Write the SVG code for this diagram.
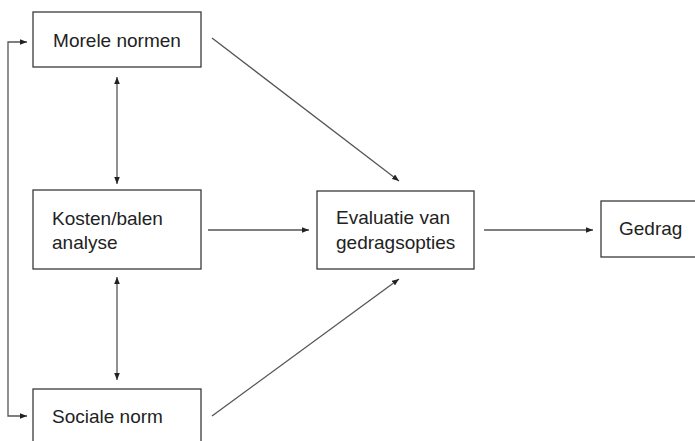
<svg xmlns="http://www.w3.org/2000/svg" width="695" height="441" viewBox="0 0 695 441">
  <style>
    .box { fill: #ffffff; stroke: #3a3a3a; stroke-width: 1.3; }
    .lbl { font-family: "Liberation Sans", Arial, sans-serif; font-size: 19px; fill: #222222; }
    .edge { fill: none; stroke: #555555; stroke-width: 1.3; }
  </style>
  <defs>
    <marker id="head" viewBox="0 0 10 8" refX="10" refY="4" markerWidth="7" markerHeight="5.6" markerUnits="userSpaceOnUse" orient="auto-start-reverse">
      <path d="M0,0 L10,4 L0,8 Z" fill="#222222"/>
    </marker>
  </defs>
  <rect width="695" height="441" fill="#ffffff"/>

  <g id="connectors">
    <!-- feedback loop on the left -->
    <path class="edge" d="M27,42 H8 V416 H27" marker-start="url(#head)" marker-end="url(#head)"/>
    <!-- two-way links between the left column boxes -->
    <line class="edge" x1="117" y1="77" x2="117" y2="184" marker-start="url(#head)" marker-end="url(#head)"/>
    <line class="edge" x1="117" y1="277" x2="117" y2="380" marker-start="url(#head)" marker-end="url(#head)"/>
    <!-- into the evaluation -->
    <line class="edge" x1="212" y1="38" x2="399" y2="181" marker-end="url(#head)"/>
    <line class="edge" x1="208" y1="230" x2="309" y2="230" marker-end="url(#head)"/>
    <line class="edge" x1="212" y1="416" x2="399" y2="279" marker-end="url(#head)"/>
    <!-- evaluation to behaviour -->
    <line class="edge" x1="484" y1="230" x2="593" y2="230" marker-end="url(#head)"/>
  </g>

  <g id="morele-normen">
    <rect class="box" x="33" y="12" width="168" height="55"/>
    <text class="lbl" x="117" y="47" text-anchor="middle">Morele normen</text>
  </g>

  <g id="kosten-balen">
    <rect class="box" x="33" y="190" width="168" height="79"/>
    <text class="lbl" x="52" y="225">Kosten/balen</text>
    <text class="lbl" x="52" y="249">analyse</text>
  </g>

  <g id="sociale-norm">
    <rect class="box" x="33" y="389" width="168" height="60"/>
    <text class="lbl" x="52" y="423">Sociale norm</text>
  </g>

  <g id="evaluatie">
    <rect class="box" x="317" y="191" width="157" height="78"/>
    <text class="lbl" x="336" y="224">Evaluatie van</text>
    <text class="lbl" x="336" y="249">gedragsopties</text>
  </g>

  <g id="gedrag">
    <rect class="box" x="601" y="201" width="100" height="56"/>
    <text class="lbl" x="619" y="235">Gedrag</text>
  </g>
</svg>
